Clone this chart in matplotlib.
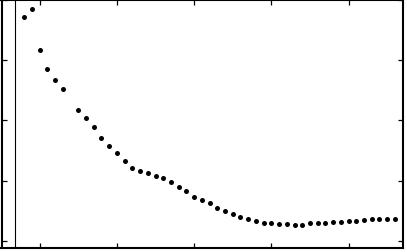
import numpy as np
import matplotlib
matplotlib.use('Agg')
import matplotlib.pyplot as plt

# x positions (index offset so ticks land on 0, 10, 20 ...); point at x=4 is missing
x_vals = [-2, -1, 0, 1, 2, 3, 5, 6, 7, 8, 9, 10, 11, 12, 13, 14, 15, 16, 17, 18,
          19, 20, 21, 22, 23, 24, 25, 26, 27, 28, 29, 30, 31, 32, 33, 34, 35, 36,
          37, 38, 39, 40, 41, 42, 43, 44, 45, 46]
y_vals = [3.71, 3.85, 3.17, 2.85, 2.67, 2.51, 2.175, 2.03, 1.88, 1.71, 1.57, 1.45,
          1.33, 1.21, 1.15, 1.12, 1.08, 1.04, 0.97, 0.90, 0.82, 0.735, 0.68, 0.62,
          0.54, 0.49, 0.45, 0.39, 0.37, 0.33, 0.30, 0.29, 0.28, 0.28, 0.26, 0.26,
          0.29, 0.29, 0.29, 0.305, 0.305, 0.33, 0.33, 0.35, 0.355, 0.355, 0.355, 0.355]
x_ticks = [0, 10, 20, 30, 40]
y_ticks = [0, 1, 2, 3, 4]
vline_x = -3.15

fig = plt.figure(figsize=(4.07, 2.53), dpi=100)
ax = fig.add_axes([1.5 / 407, 4.5 / 253, 401.5 / 407, 248 / 253])

ax.plot(x_vals, y_vals, 'o', color='black', markersize=3.6, markeredgewidth=0)
ax.axvline(vline_x, color='black', linewidth=0.8)

ax.set_xlim(-4.95, 47.05)
ax.set_ylim(-0.11, 4.0)
ax.set_xticks(x_ticks)
ax.set_yticks(y_ticks)
ax.set_xticklabels([])
ax.set_yticklabels([])
ax.tick_params(direction='in', length=3.8, width=0.9, top=True, right=True)
for s in ax.spines.values():
    s.set_linewidth(1.5)

fig.savefig('out.png', dpi=100)
